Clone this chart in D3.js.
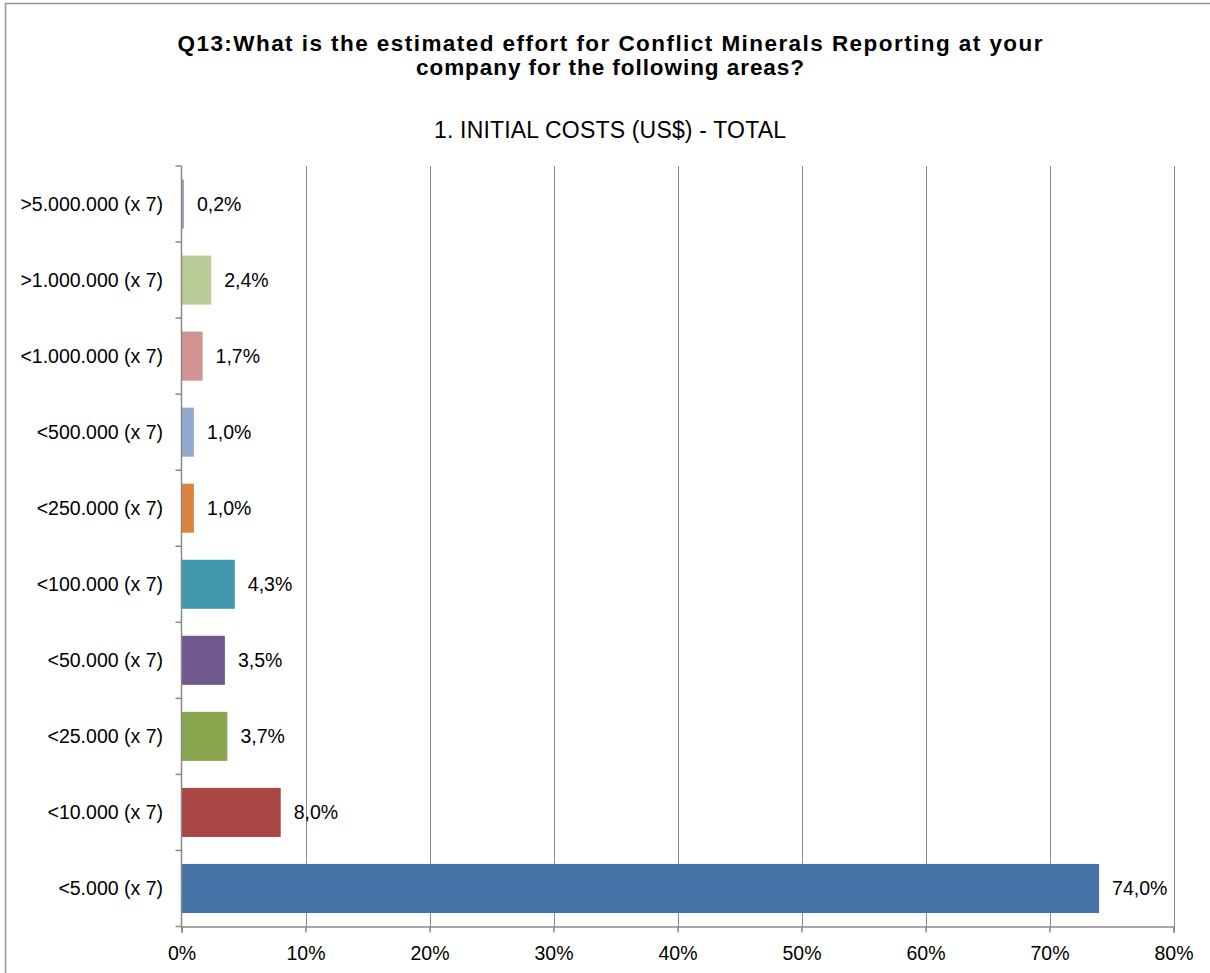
<!DOCTYPE html>
<html>
<head>
<meta charset="utf-8">
<script src="https://cdn.jsdelivr.net/npm/d3@7"></script>
<style>
  html, body { margin: 0; padding: 0; background: #fff; }
  svg { display: block; }
  text { font-family: "Liberation Sans", Arial, sans-serif; fill: #000; }
</style>
</head>
<body>
<svg id="chart" width="1210" height="973"></svg>
<script>
// Cost brackets, bottom to top as drawn
const categories = [
  "<5.000 (x 7)", "<10.000 (x 7)", "<25.000 (x 7)", "<50.000 (x 7)",
  "<100.000 (x 7)", "<250.000 (x 7)", "<500.000 (x 7)", "<1.000.000 (x 7)",
  ">1.000.000 (x 7)", ">5.000.000 (x 7)"
];
const values = [74.0, 8.0, 3.7, 3.5, 4.3, 1.0, 1.0, 1.7, 2.4, 0.2];
const valueLabels = ["74,0%", "8,0%", "3,7%", "3,5%", "4,3%", "1,0%", "1,0%", "1,7%", "2,4%", "0,2%"];
const barColors = [
  "#4572A7", "#AA4643", "#89A54E", "#71588F", "#4198AF",
  "#DB843D", "#93A9CF", "#D19392", "#B9CD96", "#A99BBD"
];
const xTicks = [0, 10, 20, 30, 40, 50, 60, 70, 80];
const titleLines = [
  "Q13:What is the estimated effort for Conflict Minerals Reporting at your",
  "company for the following areas?"
];
const subtitle = "1. INITIAL COSTS (US$) - TOTAL";

const svg = d3.select("#chart");
const plot = { left: 181.5, right: 1173.5, top: 166, bottom: 926.5 };
const axisColor = "#898989";
const labelSize = 19.5;

// Outer frame (runs past the right and bottom edges)
svg.append("rect")
  .attr("x", 5.5).attr("y", 3.5)
  .attr("width", 1300).attr("height", 1100)
  .attr("fill", "none").attr("stroke", "#959595").attr("stroke-width", 1.5);

const x = d3.scaleLinear().domain([0, 80]).range([plot.left, plot.right]);
const y = d3.scaleBand()
  .domain(categories.slice().reverse())
  .range([plot.top, plot.bottom])
  .paddingInner(0.355).paddingOuter(0.1775);

// Vertical gridlines
svg.append("g").selectAll("line")
  .data(xTicks.slice(1))
  .join("line")
  .attr("x1", d => Math.round(x(d)) + 0.5).attr("x2", d => Math.round(x(d)) + 0.5)
  .attr("y1", plot.top).attr("y2", plot.bottom)
  .attr("stroke", axisColor).attr("stroke-width", 1);

// Bars
svg.append("g").selectAll("rect")
  .data(categories)
  .join("rect")
  .attr("x", x(0))
  .attr("y", d => y(d))
  .attr("width", (d, i) => x(values[i]) - x(0))
  .attr("height", y.bandwidth())
  .attr("fill", (d, i) => barColors[i]);

// Value labels
svg.append("g").selectAll("text")
  .data(categories)
  .join("text")
  .attr("x", (d, i) => x(values[i]) + 13)
  .attr("y", d => y(d) + y.bandwidth() / 2)
  .attr("dy", "0.35em")
  .attr("font-size", labelSize)
  .text((d, i) => valueLabels[i]);

// Bottom axis
const xAxis = d3.axisBottom(x)
  .tickValues(xTicks)
  .tickFormat(d => d + "%")
  .tickSize(6)
  .tickPadding(14);
const gx = svg.append("g")
  .attr("transform", `translate(0,${plot.bottom})`)
  .call(xAxis);
gx.select(".domain").attr("stroke", axisColor).attr("stroke-width", 1.5);
gx.selectAll(".tick line").attr("stroke", axisColor).attr("stroke-width", 1.5);
gx.selectAll(".tick text")
  .attr("font-size", labelSize).attr("font-family", "Liberation Sans, Arial, sans-serif")
  .attr("fill", "#000");

// Left axis: category labels with ticks at band boundaries
const gy = svg.append("g");
gy.append("line")
  .attr("x1", plot.left).attr("x2", plot.left)
  .attr("y1", plot.top).attr("y2", plot.bottom)
  .attr("stroke", axisColor).attr("stroke-width", 1.5);
const bounds = d3.range(categories.length + 1).map(i => plot.top + i * y.step());
gy.selectAll("line.tk")
  .data(bounds)
  .join("line")
  .attr("class", "tk")
  .attr("x1", plot.left - 6).attr("x2", plot.left)
  .attr("y1", d => d).attr("y2", d => d)
  .attr("stroke", axisColor).attr("stroke-width", 1.5);
gy.selectAll("text")
  .data(categories)
  .join("text")
  .attr("x", 163)
  .attr("y", d => y(d) + y.bandwidth() / 2)
  .attr("dy", "0.35em")
  .attr("text-anchor", "end")
  .attr("font-size", labelSize)
  .text(d => d);

// Title and subtitle
const cx = 610;
const titleWidths = [865, 388];
svg.append("g").selectAll("text")
  .data(titleLines)
  .join("text")
  .attr("x", cx)
  .attr("y", (d, i) => 51 + i * 24)
  .attr("text-anchor", "middle")
  .attr("font-size", 22.5)
  .attr("font-weight", "bold")
  .attr("textLength", (d, i) => titleWidths[i])
  .attr("lengthAdjust", "spacing")
  .text(d => d);

svg.append("text")
  .attr("x", cx).attr("y", 138)
  .attr("text-anchor", "middle")
  .attr("font-size", 23)
  .attr("textLength", 352)
  .attr("lengthAdjust", "spacing")
  .text(subtitle);
</script>
</body>
</html>
